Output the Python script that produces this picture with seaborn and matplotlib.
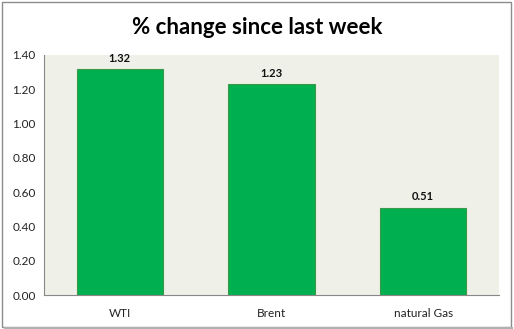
import matplotlib
matplotlib.use("Agg")
import matplotlib.pyplot as plt
import seaborn as sns
import pandas as pd
from matplotlib.patches import Rectangle

categories = ["WTI", "Brent", "natural Gas"]
values = [1.32, 1.23, 0.51]
yticks = [0.0, 0.2, 0.4, 0.6, 0.8, 1.0, 1.2, 1.4]

sns.set_theme(style="white")
plt.rcParams['font.family'] = ['Lato', 'DejaVu Sans']

df = pd.DataFrame({"cat": categories, "val": values})

fig = plt.figure(figsize=(5.14, 3.29), dpi=100)
fig.patch.set_facecolor("white")
# outer border with shadow
fig.add_artist(Rectangle((0.004, 0.006), 0.99, 0.988, transform=fig.transFigure,
                         fill=False, edgecolor="#8c8c8c", linewidth=1.0))
fig.add_artist(Rectangle((0.008, 0.0), 0.99, 0.006, transform=fig.transFigure,
                         facecolor="#b0b0b0", edgecolor="none"))

ax = fig.add_axes([0.0856, 0.1033, 0.8854, 0.7297])
ax.set_facecolor("#EFF1E8")
sns.barplot(data=df, x="cat", y="val", ax=ax, color="#00B050", width=0.57,
            edgecolor="#3a9a4a", linewidth=0.8, saturation=1)

ax.set_ylim(0, 1.4)
ax.set_yticks(yticks)
ax.set_yticklabels([f"{t:.2f}" for t in yticks])
ax.set_xlabel("")
ax.set_ylabel("")
ax.tick_params(axis="both", labelsize=8.5, colors="#222222", length=0, pad=9)
ax.tick_params(axis="y", pad=6)
for s in ["top", "right"]:
    ax.spines[s].set_visible(False)
for s in ["left", "bottom"]:
    ax.spines[s].set_color("#888888")
    ax.spines[s].set_linewidth(0.8)

for i, v in enumerate(values):
    ax.text(i, v + 0.03, f"{v:.2f}", ha="center", va="bottom",
            fontsize=8, fontweight="bold", color="#111111")

fig.text(0.5, 0.915, "% change since last week", ha="center", va="center",
         fontsize=16, fontweight="bold", color="black")

fig.savefig("out.png", dpi=100)
